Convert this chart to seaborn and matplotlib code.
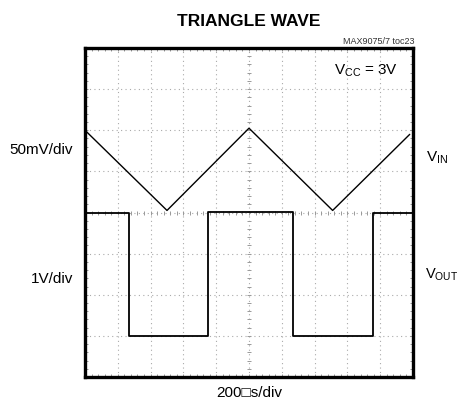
import matplotlib
matplotlib.use("Agg")
import matplotlib.pyplot as plt
import numpy as np
import pandas as pd
import seaborn as sns

# triangle input trace (divisions)
tri_time = [0.0, 2.5, 5.0, 7.55, 9.9]
tri_volts = [2.0, 0.05, 2.05, 0.05, 1.9]

# comparator output trace (divisions)
out_time = [0.0, 1.35, 1.35, 3.76, 3.76, 6.34, 6.34, 8.79, 8.79, 10.0]
out_volts = [0.0, 0.0, -3.0, -3.0, 0.02, 0.02, -3.0, -3.0, 0.0, 0.0]

FONT = ["Liberation Sans Narrow", "Liberation Sans", "DejaVu Sans"]

sns.set_style("white")
plt.rcParams["font.family"] = FONT
plt.rcParams["text.color"] = "black"
plt.rcParams["mathtext.fontset"] = "custom"
plt.rcParams["mathtext.rm"] = "Liberation Sans"
plt.rcParams["mathtext.it"] = "Liberation Sans"

fig = plt.figure(figsize=(4.61, 4.09), dpi=100)
ax = fig.add_axes([85 / 461, 1 - 377 / 409, 328 / 461, 329 / 409])

tri = pd.DataFrame({"t": tri_time, "v": tri_volts})
out = pd.DataFrame({"t": out_time, "v": out_volts})
sns.lineplot(data=tri, x="t", y="v", ax=ax, color="black", lw=1.0,
             sort=False, estimator=None)
sns.lineplot(data=out, x="t", y="v", ax=ax, color="black", lw=1.3,
             sort=False, estimator=None)

ax.set_xlim(0, 10)
ax.set_ylim(-4, 4)

# graticule
for x in range(1, 10):
    ax.axvline(x, color="#aaaaaa", lw=0.8, ls=(0, (1, 3)), zorder=0)
for y in range(-3, 4):
    ax.axhline(y, color="#aaaaaa", lw=0.8, ls=(0, (1, 3)), zorder=0)

# small ticks on the centre lines
mx = np.arange(0.2, 10, 0.2)
my = np.arange(-3.8, 4, 0.2)
ax.scatter(mx, np.zeros_like(mx), marker="|", s=12, color="#999999", lw=0.7, zorder=1)
ax.scatter(np.full_like(my, 5.0), my, marker="_", s=12, color="#999999", lw=0.7, zorder=1)

ax.set_xticks(np.arange(0, 10.01, 0.2))
ax.set_yticks(np.arange(-4, 4.01, 0.2))
ax.tick_params(direction="in", length=2.5, width=0.6, color="#888888",
               labelbottom=False, labelleft=False,
               top=True, right=True, bottom=True, left=True)
ax.set_xlabel("")
ax.set_ylabel("")
for s in ax.spines.values():
    s.set_linewidth(2.4)
    s.set_color("black")

# texts
fig.text(249 / 461, 1 - 21 / 409, "TRIANGLE WAVE", ha="center", va="center",
         fontsize=12.5, fontweight="heavy")
fig.text(414 / 461, 1 - 41 / 409, "MAX9075/7 toc23", ha="right", va="center",
         fontsize=6.5, color="#333333")
fig.text(366 / 461, 1 - 71 / 409, r"V$_{\mathrm{CC}}$ = 3V", ha="center",
         va="center", fontsize=11)
fig.text(73 / 461, 1 - 150 / 409, "50mV/div", ha="right", va="center", fontsize=11)
fig.text(73 / 461, 1 - 279 / 409, "1V/div", ha="right", va="center", fontsize=11)
fig.text(426 / 461, 1 - 158 / 409, r"V$_{\mathrm{IN}}$", ha="left", va="center",
         fontsize=11)
fig.text(425 / 461, 1 - 275 / 409, r"V$_{\mathrm{OUT}}$", ha="left", va="center",
         fontsize=10.5)
fig.text(249 / 461, 1 - 393 / 409, "200\u25a1s/div", ha="center", va="center",
         fontsize=11)

fig.savefig("out.png", dpi=100)
